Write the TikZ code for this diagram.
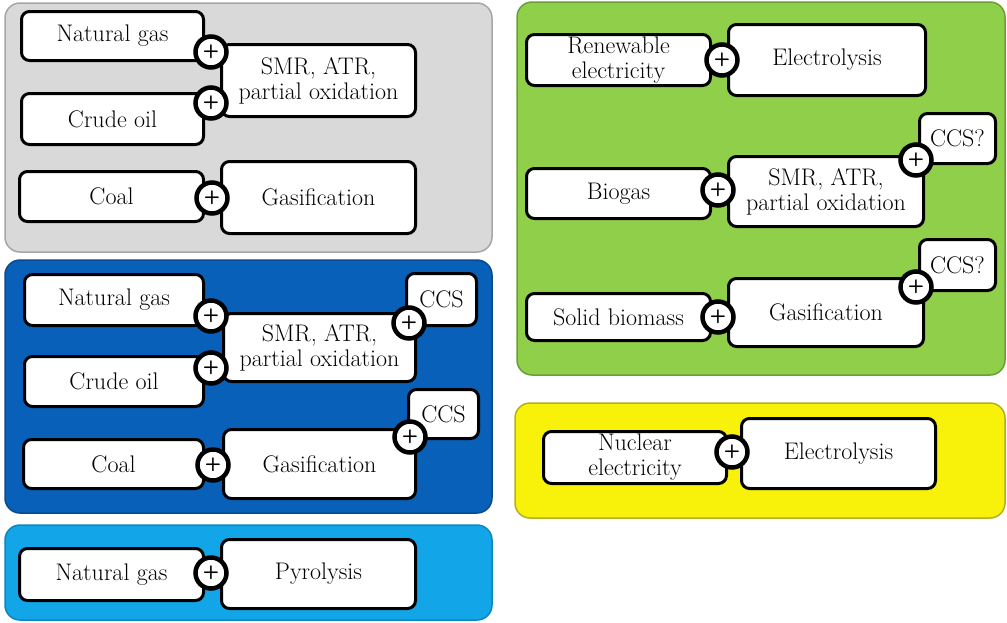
\documentclass[tikz,border=0pt]{standalone}
\definecolor{pgray}{HTML}{D9D9D9}
\definecolor{pgrayb}{HTML}{A6A6A6}
\definecolor{pdblue}{HTML}{0960B8}
\definecolor{pdblueb}{HTML}{084A8E}
\definecolor{plblue}{HTML}{12A6E8}
\definecolor{plblueb}{HTML}{0C86BE}
\definecolor{pgreen}{HTML}{8FCF4A}
\definecolor{pgreenb}{HTML}{6A9E36}
\definecolor{pyellow}{HTML}{F8F20A}
\definecolor{pyellowb}{HTML}{B5AE20}
\tikzset{
  panel/.style={line width=1.5pt, rounded corners=15pt},
  pb/.style={draw=black, fill=white, line width=3pt, rounded corners=8pt, align=center, inner sep=0pt, font=\fontsize{24}{25}\selectfont},
  plus/.style={circle, draw=black, fill=white, line width=4.5pt, minimum size=31pt, inner sep=0pt, font=\fontsize{19}{19}\selectfont\sffamily\bfseries},
}
\newcommand\pbox[6]{\node[pb, minimum width={#4-#2-3}, minimum height={#5-#3-3}] (#1) at ({(#2+#4)/2},{(#3+#5)/2}) {#6};}
\begin{document}
\begin{tikzpicture}[x=1pt,y=-1pt]
\useasboundingbox (0,0) rectangle (1007,622);
% panels
\path[panel, fill=pgray, draw=pgrayb] (5,3) rectangle (492,252);
\path[panel, fill=pdblue, draw=pdblueb] (5,260) rectangle (492,513);
\path[panel, fill=plblue, draw=plblueb] (5,525) rectangle (492,620);
\path[panel, fill=pgreen, draw=pgreenb] (517,2) rectangle (1005,375);
\path[panel, fill=pyellow, draw=pyellowb] (515,403) rectangle (1005,518);
% gray panel
\pbox{smrA}{220}{43}{417}{118}{SMR, ATR,\\partial oxidation}
\pbox{gasA}{220}{160}{417}{235}{Gasification}
\pbox{ngA}{20}{10}{205}{62}{Natural gas}
\pbox{coA}{20}{92}{205}{146}{Crude oil}
\pbox{coalA}{18}{170}{205}{223}{Coal}
\node[plus] (pA1) at (211,52) {+};
\node[plus] (pA2) at (211,103) {+};
\node[plus] (pA3) at (212,198) {+};
% dark blue panel
\pbox{ccsB1}{405}{272}{478}{327}{CCS}
\pbox{ccsB2}{407}{388}{480}{440}{CCS}
\pbox{smrB}{222}{312}{417}{383}{SMR, ATR,\\partial oxidation}
\pbox{gasB}{222}{428}{417}{500}{Gasification}
\pbox{ngB}{23}{273}{205}{327}{Natural gas}
\pbox{coB}{23}{355}{205}{408}{Crude oil}
\pbox{coalB}{22}{438}{205}{490}{Coal}
\node[plus] (pB1) at (211,316) {+};
\node[plus] (pB2) at (409,323) {+};
\node[plus] (pB3) at (211,368) {+};
\node[plus] (pB4) at (410,437) {+};
\node[plus] (pB5) at (213,465) {+};
% light blue panel
\pbox{pyrC}{220}{538}{417}{610}{Pyrolysis}
\pbox{ngC}{18}{547}{205}{602}{Natural gas}
\node[plus] (pC1) at (211,573) {+};
% green panel
\pbox{ccsD1}{918}{112}{997}{165}{CCS?}
\pbox{ccsD2}{918}{238}{997}{292}{CCS?}
\pbox{elD}{727}{23}{927}{97}{Electrolysis}
\pbox{smrD}{727}{155}{925}{228}{SMR, ATR,\\partial oxidation}
\pbox{gasD}{727}{277}{925}{348}{Gasification}
\pbox{renD}{525}{33}{712}{87}{Renewable\\electricity}
\pbox{bioD}{525}{167}{712}{220}{Biogas}
\pbox{solD}{525}{292}{712}{342}{Solid biomass}
\node[plus] (pD1) at (722,60) {+};
\node[plus] (pD2) at (916,160) {+};
\node[plus] (pD3) at (718,190) {+};
\node[plus] (pD4) at (916,287) {+};
\node[plus] (pD5) at (718,317) {+};
% yellow panel
\pbox{elE}{740}{417}{937}{490}{Electrolysis}
\pbox{nucE}{542}{430}{728}{485}{Nuclear\\electricity}
\node[plus] (pE1) at (732,452) {+};
\end{tikzpicture}
\end{document}
